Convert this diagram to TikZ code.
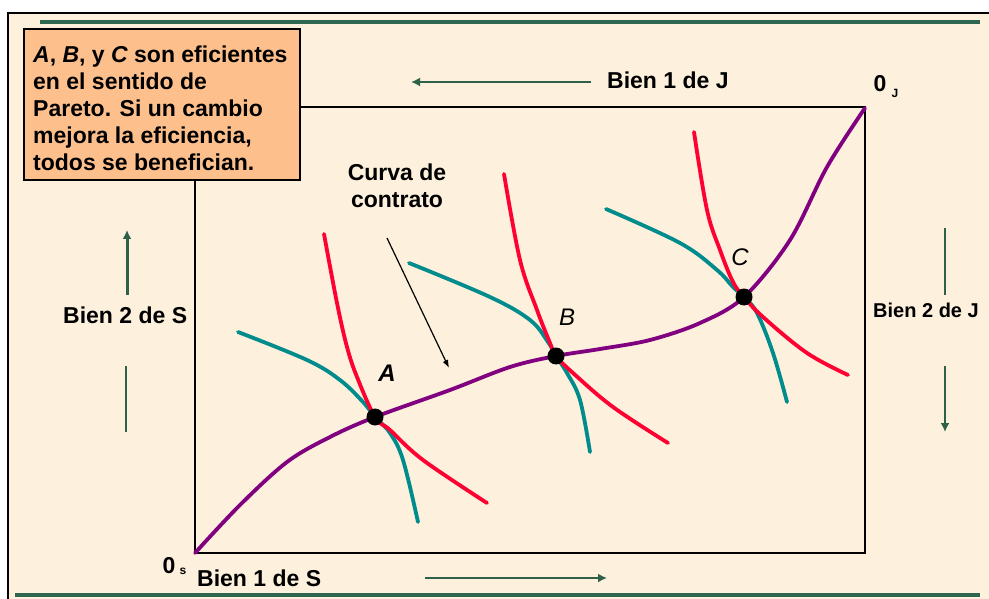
\documentclass[tikz,border=0pt]{standalone}
\usepackage{fontspec}
\setmainfont{Liberation Sans}
\usetikzlibrary{arrows.meta}
\definecolor{bgbeige}{HTML}{FDF0DC}
\definecolor{boxorange}{HTML}{FDC08C}
\definecolor{lgreen}{HTML}{2F6650}
\definecolor{agreen}{HTML}{2E6248}
\definecolor{icred}{HTML}{FF0033}
\definecolor{icteal}{HTML}{008C8C}
\definecolor{ccpurple}{HTML}{800080}
\tikzset{
  lbl/.style={font=\bfseries\fontsize{23}{27}\selectfont, inner sep=0pt},
  ptlbl/.style={font=\itshape\fontsize{24}{24}\selectfont, inner sep=0pt},
  garrow/.style={draw=agreen, line width=2pt, -{Latex[length=9pt,width=9pt]}},
  gline/.style={draw=agreen, line width=2pt},
  redcurve/.style={draw=icred, line width=3.8pt, line cap=round},
  tealcurve/.style={draw=icteal, line width=3.8pt, line cap=round},
  contract/.style={draw=ccpurple, line width=3.8pt, line cap=round},
  dot/.style={circle, fill=black, minimum size=17pt, inner sep=0pt},
  band/.style={draw=lgreen, line width=4pt},
}
\begin{document}
\begin{tikzpicture}[x=1pt,y=-1pt]
\useasboundingbox (0,0) rectangle (989,599);
\clip (0,0) rectangle (989,599);
% background and frame
\fill[white] (0,0) rectangle (989,599);
\fill[bgbeige] (8,13) rectangle (995,605);
\draw[line width=2pt] (8,605) -- (8,13) -- (995,13);
% green bands
\draw[band] (40,22) -- (980,22);
\draw[band] (15,595) -- (980,595);
% Edgeworth box
\draw[line width=1.5pt] (195,107) rectangle (865,553);
% note box
\draw[line width=1.5pt, fill=boxorange] (24,29) rectangle (300,180);
\node[lbl, anchor=north west, align=left] (note) at (33,46)
  {{\itshape A}, {\itshape B}, y {\itshape C} son eficientes\\
   en el sentido de\\
   Pareto. Si un cambio\\
   mejora la eficiencia,\\
   todos se benefician.};
% axis labels
\node[lbl, anchor=west] (b1j) at (607,80) {Bien 1 de J};
\node[lbl, anchor=west] (b1s) at (197,578) {Bien 1 de S};
\node[lbl, anchor=west] (b2s) at (63,315) {Bien 2 de S};
\node[lbl, anchor=west, font=\bfseries\fontsize{20}{24}\selectfont] (b2j) at (873,310) {Bien 2 de J};
\node[lbl, anchor=center] (zs) at (169,566) {0};
\node[font=\bfseries\fontsize{12}{12}\selectfont, inner sep=0pt] (zss) at (183,571) {s};
\node[lbl, anchor=center] (zj) at (880,84) {0};
\node[font=\bfseries\fontsize{12}{12}\selectfont, inner sep=0pt] (zjs) at (895,93) {J};
% direction arrows
\coordinate (t1) at (591,82); \coordinate (t2) at (411,82);
\draw[garrow] (t1) -- (t2);
\coordinate (u1) at (425,578); \coordinate (u2) at (607,578);
\draw[garrow] (u1) -- (u2);
\coordinate (r1) at (945,228); \coordinate (r2) at (945,295);
\coordinate (r3) at (945,366); \coordinate (r4) at (945,432);
\draw[gline] (r1) -- (r2);
\draw[garrow] (r3) -- (r4);
\coordinate (l1) at (127,295); \coordinate (l2) at (127,230);
\coordinate (l3) at (126,366); \coordinate (l4) at (126,432);
\draw[garrow, line width=3pt] (l1) -- (l2);
\draw[gline] (l3) -- (l4);
% indifference curves
\draw[tealcurve] plot[smooth, tension=0.6] coordinates {(238,332) (307,360) (340,380) (363,402) (375,417) (390,433) (403,460) (418,522)};
\draw[redcurve] plot[smooth, tension=0.6] coordinates {(324,234) (337,303) (347,347) (357,377) (375,417) (390,430) (423,460) (487,503)};
\draw[tealcurve] plot[smooth, tension=0.6] coordinates {(409,263) (490,297) (530,320) (548,342) (556,356) (567,373) (580,400) (590,452)};
\draw[redcurve] plot[smooth, tension=0.6] coordinates {(504,174) (520,260) (537,310) (550,343) (556,356) (573,373) (613,407) (668,443)};
\draw[tealcurve] plot[smooth, tension=0.6] coordinates {(606,209) (680,243) (717,270) (733,287) (744,297) (757,313) (773,353) (787,402)};
\draw[redcurve] plot[smooth, tension=0.6] coordinates {(694,132) (707,210) (720,250) (733,282) (744,297) (763,317) (807,353) (848,375)};
% contract curve
\draw[contract] plot[smooth, tension=0.55] coordinates {(195,553) (240,505) (287,462) (330,437) (375,417) (450,390) (510,367) (556,356) (600,349) (650,340) (700,323) (744,297) (790,240) (827,167) (865,108)};
% points
\node[dot] (A) at (375,417) {};
\node[dot] (B) at (556,356) {};
\node[dot] (C) at (744,297) {};
\node[ptlbl, font=\bfseries\itshape\fontsize{24}{24}\selectfont] (Al) at (387,373) {A};
\node[ptlbl] (Bl) at (567,317) {B};
\node[ptlbl] (Cl) at (740,257) {C};
% contract curve label and pointer
\node[lbl, align=center] (cc) at (397,186) {Curva de\\contrato};
\coordinate (p1) at (387,238); \coordinate (p2) at (449,368);
\draw[line width=1.2pt, -{Latex[length=8pt,width=6pt]}] (p1) -- (p2);
\end{tikzpicture}
\end{document}
